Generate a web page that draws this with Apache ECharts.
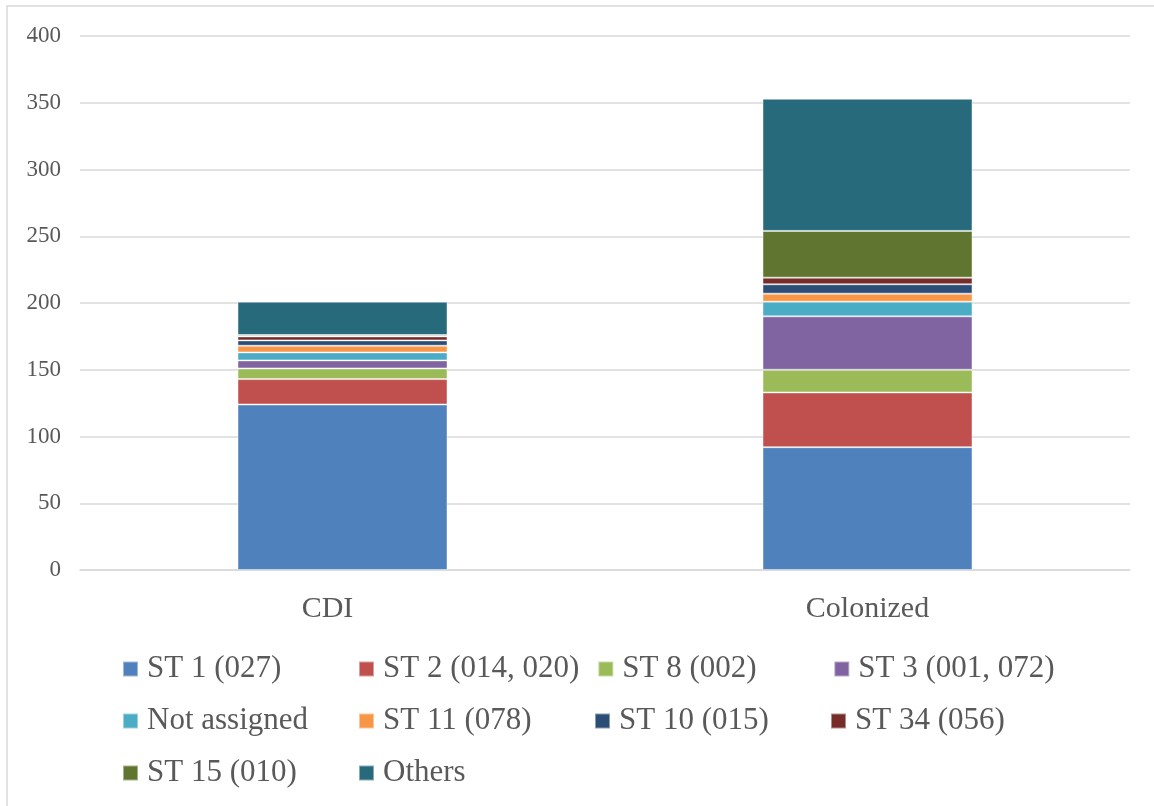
<!DOCTYPE html>
<html><head><meta charset="utf-8">
<script src="https://cdn.jsdelivr.net/npm/echarts@6/dist/echarts.min.js"></script>
<style>html,body{margin:0;padding:0;background:#fff}#c{width:1154px;height:806px}</style>
</head><body><div id="c"></div>
<script>
const categories = ['CDI', 'Colonized'];
const seriesNames = ['ST 1 (027)', 'ST 2 (014, 020)', 'ST 8 (002)', 'ST 3 (001, 072)', 'Not assigned', 'ST 11 (078)', 'ST 10 (015)', 'ST 34 (056)', 'ST 15 (010)', 'Others'];
const st1 = [124, 92];
const st2 = [19, 41];
const st8 = [8, 17];
const st3 = [6, 40];
const notAssigned = [6, 11];
const st11 = [5, 6];
const st10 = [4, 7];
const st34 = [3, 5];
const st15 = [1, 35];
const others = [25, 99];
const yTicks = [0, 50, 100, 150, 200, 250, 300, 350, 400];

const seriesData = [st1, st2, st8, st3, notAssigned, st11, st10, st34, st15, others];
const colors = ['#4F81BD', '#C0504D', '#9BBB59', '#8064A2', '#4BACC6', '#F79646', '#2C4D75', '#772C2A', '#5F7530', '#276A7C'];
const font = 'Liberation Serif';
const textColor = '#595959';

const chart = echarts.init(document.getElementById('c'));
chart.setOption({
  animation: false,
  color: colors,
  graphic: [{
    type: 'rect', shape: { x: 7, y: 6, width: 1160, height: 820 },
    style: { fill: 'none', stroke: '#d9d9d9', lineWidth: 1.5 }, silent: true
  }],
  grid: { left: 80, right: 24, top: 36, bottom: 236 },
  legend: {
    left: 117, top: 647, width: 960,
    itemWidth: 15, itemHeight: 15, itemGap: 18,
    icon: 'rect',
    textStyle: { fontFamily: font, fontSize: 31, color: textColor, width: 193, lineHeight: 34, padding: [0, 0, 0, 4] },
    data: seriesNames
  },
  xAxis: {
    type: 'category', data: categories,
    axisLine: { show: true, lineStyle: { color: '#d9d9d9', width: 1.5 } },
    axisTick: { show: false },
    axisLabel: {
      fontFamily: font, fontSize: 30, color: textColor, margin: 24,
      formatter: (v, i) => i === 0 ? '{a|' + v + '}' : '{b|' + v + '}',
      rich: {
        a: { fontFamily: font, fontSize: 30, color: textColor, padding: [0, 30, 0, 0] },
        b: { fontFamily: font, fontSize: 30, color: textColor }
      }
    }
  },
  yAxis: {
    type: 'value', min: yTicks[0], max: yTicks[yTicks.length - 1], interval: yTicks[1] - yTicks[0],
    axisLine: { show: false }, axisTick: { show: false },
    splitLine: { lineStyle: { color: '#d9d9d9', width: 1.5 } },
    axisLabel: { fontFamily: font, fontSize: 23, color: textColor, margin: 19 }
  },
  series: seriesNames.map((n, i) => ({
    name: n, type: 'bar', stack: 'total', data: seriesData[i],
    barWidth: 210,
    itemStyle: { color: colors[i], borderColor: 'rgba(255,255,255,0.45)', borderWidth: 1 }
  }))
});
</script></body></html>
